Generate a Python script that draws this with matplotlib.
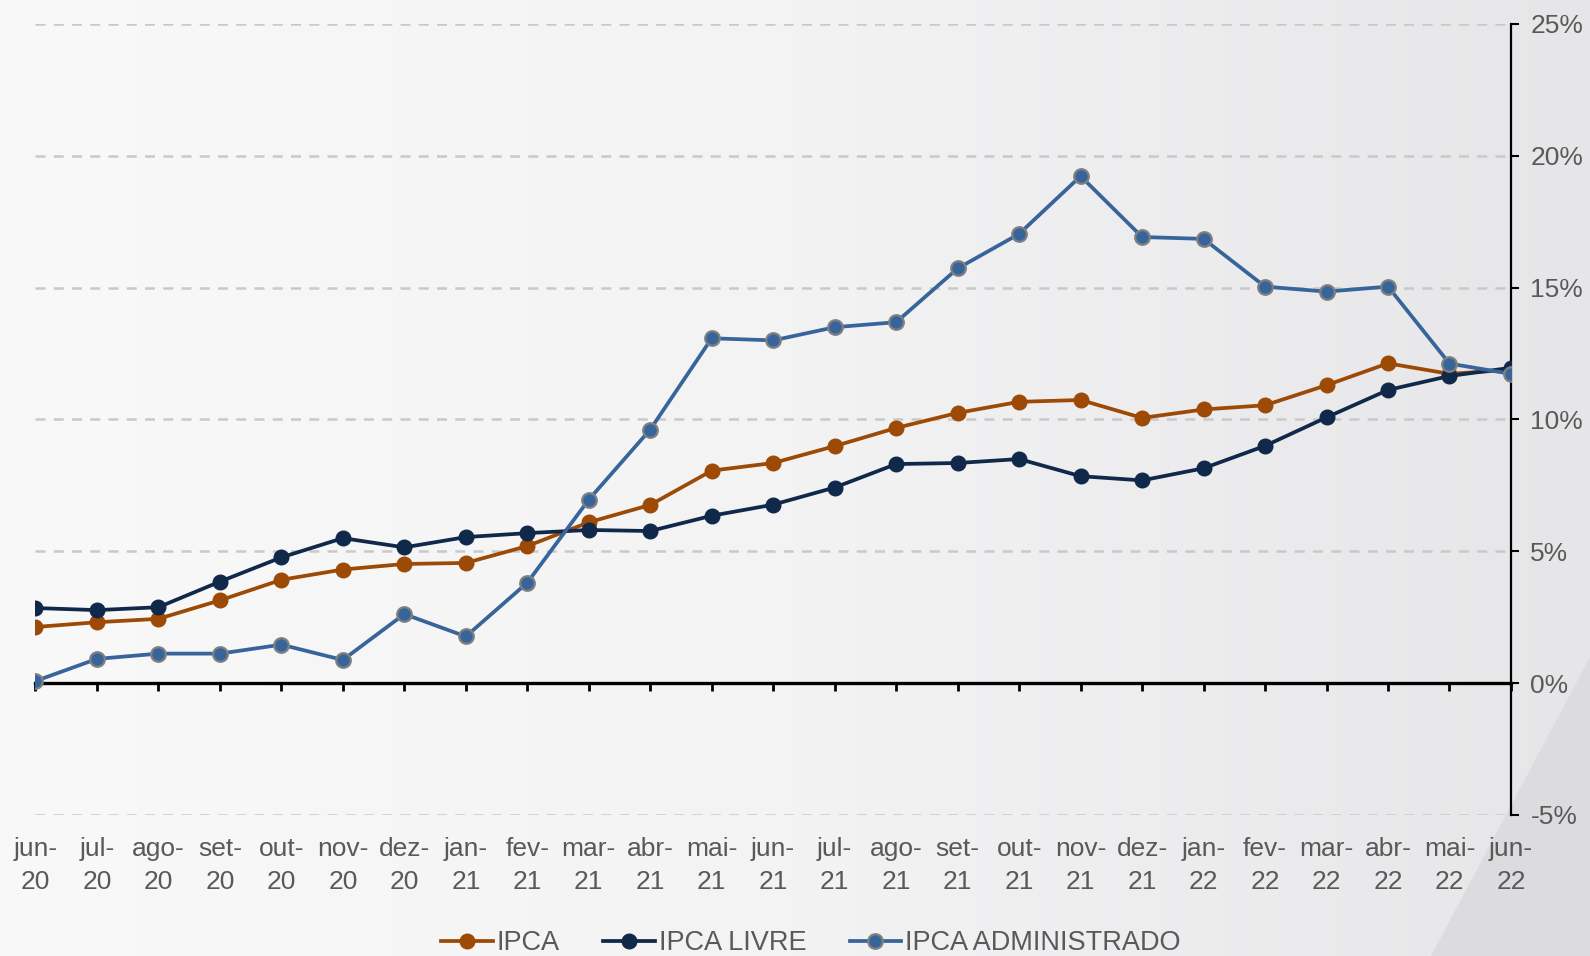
import numpy as np
import matplotlib.pyplot as plt
from matplotlib.patches import Polygon
from matplotlib.colors import LinearSegmentedColormap

plt.rcParams['font.family'] = ['Liberation Sans', 'DejaVu Sans']

# data (12-month accumulated, %)
months = ['jun-\n20', 'jul-\n20', 'ago-\n20', 'set-\n20', 'out-\n20', 'nov-\n20', 'dez-\n20',
          'jan-\n21', 'fev-\n21', 'mar-\n21', 'abr-\n21', 'mai-\n21', 'jun-\n21', 'jul-\n21',
          'ago-\n21', 'set-\n21', 'out-\n21', 'nov-\n21', 'dez-\n21', 'jan-\n22', 'fev-\n22',
          'mar-\n22', 'abr-\n22', 'mai-\n22', 'jun-\n22']
ipca = [2.13, 2.31, 2.44, 3.14, 3.92, 4.31, 4.52, 4.56, 5.20, 6.10, 6.76, 8.06, 8.35,
        8.99, 9.68, 10.25, 10.67, 10.74, 10.06, 10.38, 10.54, 11.30, 12.13, 11.73, 11.89]
ipca_livre = [2.85, 2.77, 2.88, 3.85, 4.77, 5.50, 5.15, 5.54, 5.69, 5.81, 5.77, 6.35, 6.77,
              7.42, 8.31, 8.35, 8.50, 7.85, 7.69, 8.15, 9.00, 10.08, 11.12, 11.65, 11.96]
ipca_adm = [0.08, 0.92, 1.12, 1.12, 1.46, 0.88, 2.62, 1.77, 3.81, 6.96, 9.62, 13.08, 13.00,
            13.50, 13.69, 15.73, 17.04, 19.23, 16.92, 16.85, 15.04, 14.85, 15.04, 12.12, 11.73]
yticks = [-5, 0, 5, 10, 15, 20, 25]

c_ipca = '#9c4a06'
c_livre = '#10284a'
c_adm = '#37649a'
txt = '#595959'

fig = plt.figure(figsize=(15.9, 9.56), dpi=100)

# background gradient + corner shape
bg = fig.add_axes([0, 0, 1, 1], zorder=-10)
grad = np.linspace(0, 1, 256)[None, :]
cmap_bg = LinearSegmentedColormap.from_list('bg', ['#f9f9fa', '#f3f3f4', '#e6e6e8'])
bg.imshow(grad, cmap=cmap_bg, aspect='auto', extent=[0, 1, 0, 1])
bg.add_patch(Polygon([[1.0, 0.313], [1.0, 0.0], [0.9, 0.0]], closed=True,
                     facecolor='#dcdcde', edgecolor='none'))
bg.set_xlim(0, 1)
bg.set_ylim(0, 1)
bg.axis('off')

ax = fig.add_axes([0.0223, 0.1475, 0.928, 0.8274])
ax.patch.set_alpha(0)
x = np.arange(len(months))

ax.plot(x, ipca, color=c_ipca, lw=2.7, marker='o', ms=10.5, mfc=c_ipca, mec=c_ipca,
        label='IPCA', zorder=3)
ax.plot(x, ipca_livre, color=c_livre, lw=2.7, marker='o', ms=10.5, mfc=c_livre, mec=c_livre,
        label='IPCA LIVRE', zorder=4)
ax.plot(x, ipca_adm, color=c_adm, lw=2.7, marker='o', ms=10.5, mfc=c_adm, mec='#808080',
        mew=1.6, label='IPCA ADMINISTRADO', zorder=5)

ax.set_xlim(0, len(months) - 1)
ax.set_ylim(-5, 25)

# dashed gridlines
for v in yticks:
    if v != 0:
        ax.axhline(v, color='#c9c9c9', lw=1.8, ls=(0, (4, 3.3)), zorder=1)

# y axis on the right
ax.yaxis.tick_right()
ax.set_yticks(yticks)
ax.set_yticklabels([f'{v}%' for v in yticks])
ax.tick_params(axis='y', direction='out', length=6, width=1.5, color='black',
               labelcolor=txt, labelsize=19, pad=8)
for s in ['top', 'left']:
    ax.spines[s].set_visible(False)
ax.spines['right'].set_linewidth(1.6)

# x axis line at 0 with ticks
ax.spines['bottom'].set_position(('data', 0))
ax.spines['bottom'].set_linewidth(2.4)
ax.spines['bottom'].set_zorder(2)
ax.set_xticks(x)
ax.tick_params(axis='x', direction='out', length=6, width=2, labelbottom=False)

# month labels under the plot
sec = ax.secondary_xaxis('bottom')
sec.set_xticks(x)
sec.set_xticklabels(months)
for lbl in sec.get_xticklabels():
    lbl.set_linespacing(1.45)
sec.tick_params(length=0, labelcolor=txt, labelsize=19, pad=16)
sec.spines['bottom'].set_visible(False)

fig.legend(loc='lower center', bbox_to_anchor=(0.51, -0.026), ncol=3, frameon=False,
           fontsize=19.5, handlelength=1.9, handletextpad=0.15, columnspacing=1.6,
           labelcolor=txt)

fig.savefig('out.png', dpi=100)
